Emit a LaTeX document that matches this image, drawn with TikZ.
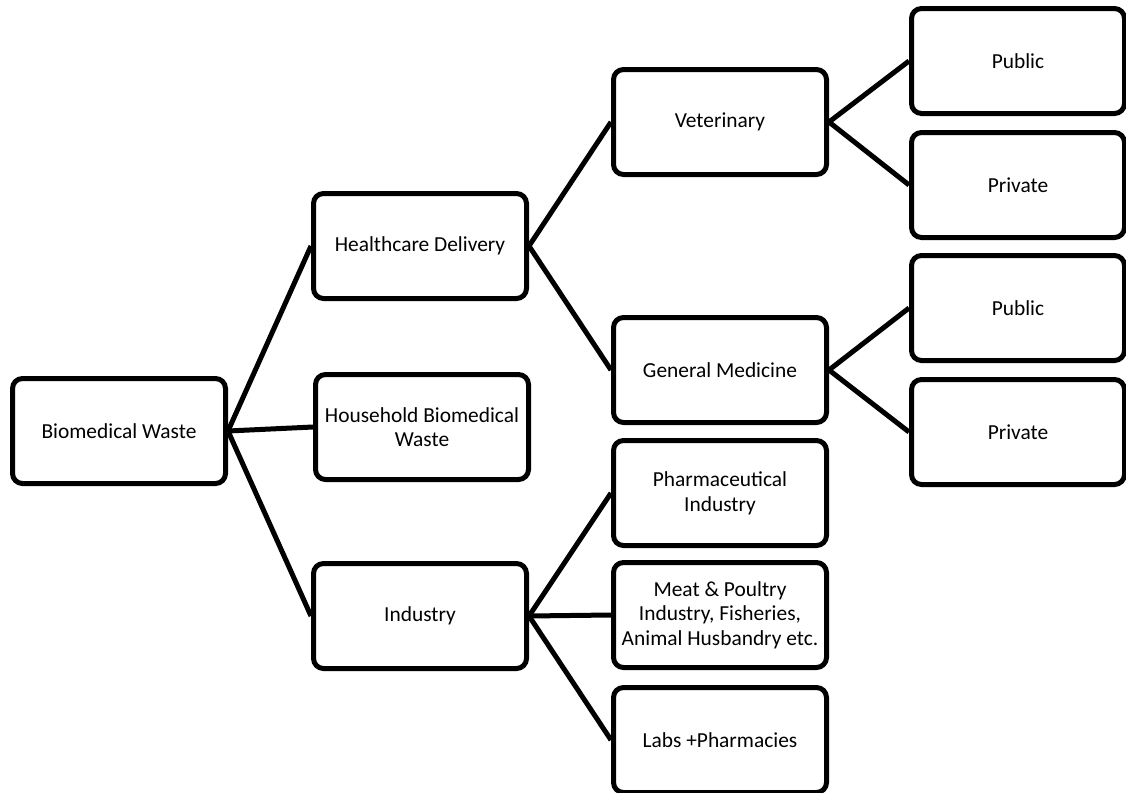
\documentclass[tikz,border=0pt]{standalone}
\usepackage{fontspec}
\setmainfont{Carlito}
\begin{document}
\begin{tikzpicture}[
  x=0.5pt, y=-0.5pt,
  font=\fontsize{10.7pt}{12.3pt}\selectfont,
  wbox/.style={draw, line width=2.5pt, rounded corners=5pt, fill=white,
    minimum width=106.5pt, minimum height=52.5pt, align=center, inner sep=2pt},
  link/.style={line width=2.5pt},
]
\useasboundingbox (0,0) rectangle (1126,793);

% Root and first level.
\node[wbox] (bw) at (119, 431) {Biomedical Waste};
\node[wbox] (hd) at (420, 246) {Healthcare Delivery};
\node[wbox] (hh) at (422, 427) {Household Biomedical\\Waste};
\node[wbox] (ind) at (420, 616) {Industry};

% Second level.
\node[wbox] (vet) at (720, 122) {Veterinary};
\node[wbox] (gm) at (720, 370) {General Medicine};
\node[wbox] (ph) at (720, 493) {Pharmaceutical\\Industry};
\node[wbox] (meat) at (720, 615) {Meat \& Poultry\\Industry, Fisheries,\\Animal Husbandry etc.};
\node[wbox] (labs) at (720, 740) {Labs +Pharmacies};

% Third level: public / private.
\node[wbox] (pub1) at (1018, 61) {Public};
\node[wbox] (pri1) at (1018, 185) {Private};
\node[wbox] (pub2) at (1018, 308) {Public};
\node[wbox] (pri2) at (1018, 432) {Private};

% Connectors.
\foreach \a/\b in {bw/hd, bw/hh, bw/ind, hd/vet, hd/gm, ind/ph, ind/meat, ind/labs,
                   vet/pub1, vet/pri1, gm/pub2, gm/pri2} {
  \draw[link] (\a.east) -- (\b.west);
}

\end{tikzpicture}
\end{document}
